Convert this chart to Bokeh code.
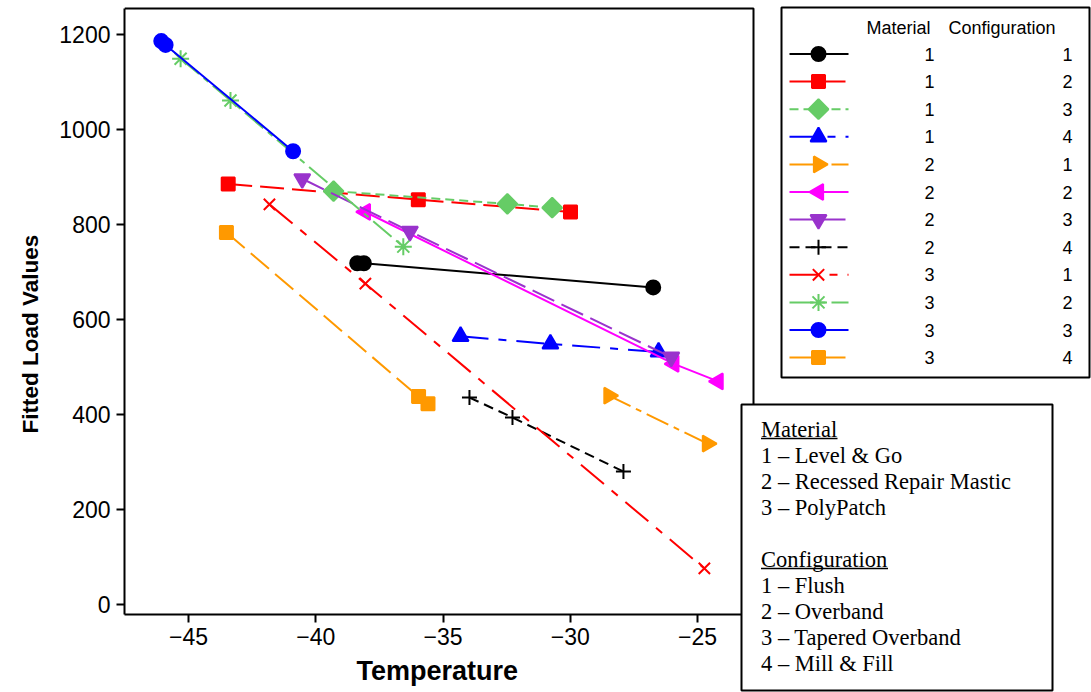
import math
from bokeh.plotting import figure
from bokeh.models import Range1d, FixedTicker, Title
from bokeh.embed import file_html
from bokeh.resources import INLINE
from bokeh.core.properties import value

# ---------------- data ----------------
material = [1, 1, 1, 1, 2, 2, 2, 2, 3, 3, 3, 3]
configuration = [1, 2, 3, 4, 1, 2, 3, 4, 1, 2, 3, 4]

temp_1_1 = [-38.37, -38.11, -26.74]
load_1_1 = [718, 718, 667]
temp_1_2 = [-43.44, -35.97, -29.99]
load_1_2 = [885, 852, 826]
temp_1_3 = [-39.30, -32.47, -30.71]
load_1_3 = [870, 843, 835]
temp_1_4 = [-34.31, -30.78, -26.53]
load_1_4 = [564, 548, 531]
temp_2_1 = [-28.48, -24.61]
load_2_1 = [439, 338]
temp_2_2 = [-38.05, -25.93, -24.19]
load_2_2 = [826, 506, 469]
temp_2_3 = [-40.53, -36.30, -26.03]
load_2_3 = [896, 785, 520]
temp_2_4 = [-33.96, -32.27, -27.91]
load_2_4 = [435, 393, 279]
temp_3_1 = [-41.82, -38.05, -24.73]
load_3_1 = [842, 675, 75]
temp_3_2 = [-45.31, -43.35, -36.56]
load_3_2 = [1149, 1061, 753]
temp_3_3 = [-46.07, -45.90, -40.89]
load_3_3 = [1186, 1178, 954]
temp_3_4 = [-43.51, -35.96, -35.59]
load_3_4 = [783, 437, 422]

x_ticks = [-45, -40, -35, -30, -25]
y_ticks = [0, 200, 400, 600, 800, 1000, 1200]

material_names = ["Level & Go", "Recessed Repair Mastic", "PolyPatch"]
configuration_names = ["Flush", "Overband", "Tapered Overband", "Mill & Fill"]

temps = [temp_1_1, temp_1_2, temp_1_3, temp_1_4, temp_2_1, temp_2_2,
         temp_2_3, temp_2_4, temp_3_1, temp_3_2, temp_3_3, temp_3_4]
loads = [load_1_1, load_1_2, load_1_3, load_1_4, load_2_1, load_2_2,
         load_2_3, load_2_4, load_3_1, load_3_2, load_3_3, load_3_4]

# ---------------- styles ----------------
GREEN = "#66CC66"
ORANGE = "#FF9900"
PURPLE = "#9933CC"
colors = ["black", "red", GREEN, "blue", ORANGE, "magenta",
          PURPLE, "black", "red", GREEN, "blue", ORANGE]
markers = ["circle", "square", "square", "triangle", "triangle", "triangle",
           "inverted_triangle", "cross", "x", "asterisk", "circle", "square"]
angles = [0, 0, math.pi / 4, 0, -math.pi / 2, math.pi / 2,
          0, 0, 0, 0, 0, 0]
msizes = [14, 13, 14, 16, 16, 16, 16, 15, 16, 17, 14, 13]
dashes = ["solid", "24 8", "9 5", "28 10 8 10", "24 6 6 6", "solid",
          "24 8", "10 6", "30 10 8 10", "24 6 6 6", "solid", "24 8"]

# ---------------- geometry ----------------
W, H = 1091, 692
FL, FT, FB = 124, 5, 614          # frame left / top / bottom (frame reaches canvas right)
PR, PT = 753, 8                   # plot box right / top
X_REF_PX, X_PPU = 188.0, 25.45    # pixel of -45 and pixels per degree
Y_REF_PX, Y_PPU = 603.5, 0.4746   # pixel of 0 and pixels per load unit

def xdata(px):
    return -45 + (px - X_REF_PX) / X_PPU

def ydata(py):
    return (Y_REF_PX - py) / Y_PPU

p = figure(width=W, height=H, output_backend="svg", toolbar_location=None,
           title=None,
           x_range=Range1d(xdata(FL), xdata(W)),
           y_range=Range1d(ydata(FB), ydata(FT)),
           min_border_left=FL, min_border_right=0,
           min_border_top=FT, min_border_bottom=H - FB)
p.extra_x_ranges = {"px": Range1d(FL, W)}
p.extra_y_ranges = {"py": Range1d(FB, FT)}
p.outline_line_color = None
p.grid.visible = False
p.background_fill_color = "white"
p.border_fill_color = "white"

TICK_FONT = "Liberation Sans"
for ax in (p.xaxis[0], p.yaxis[0]):
    ax.axis_line_width = 2
    ax.axis_line_color = "black"
    ax.major_tick_line_width = 2
    ax.major_tick_line_color = "black"
    ax.major_tick_out = 8
    ax.major_tick_in = 0
    ax.minor_tick_line_color = None
    ax.major_label_text_font = TICK_FONT
    ax.major_label_text_font_size = "23px"
    ax.major_label_text_color = "black"
p.xaxis.ticker = FixedTicker(ticks=x_ticks)
p.yaxis.ticker = FixedTicker(ticks=y_ticks)
p.xaxis.bounds = (xdata(FL), xdata(PR))
p.yaxis.bounds = (ydata(FB), ydata(PT))
p.xaxis.major_label_standoff = 5
p.yaxis.major_label_standoff = 6

# axis titles (placed as side titles so they can be positioned on the plot box)
p.add_layout(Title(text="Temperature", align="left", offset=232, standoff=13,
                   text_font="Liberation Sans", text_font_style="bold",
                   text_font_size="27px", text_color="black"), "below")
p.add_layout(Title(text="Fitted Load Values", align="left", offset=181, standoff=28,
                   text_font="Liberation Sans", text_font_style="bold",
                   text_font_size="22.5px", text_color="black"), "left")

# plot box top and right edges
p.line([FL, PR, PR], [PT, PT, FB], x_range_name="px", y_range_name="py",
       line_color="black", line_width=2)

# ---------------- series ----------------
for i in range(len(temps)):
    p.line(temps[i], loads[i], line_color=colors[i], line_width=2,
           line_dash=dashes[i])
    p.scatter(temps[i], loads[i], marker=markers[i], size=msizes[i],
              angle=angles[i], fill_color=colors[i], line_color=colors[i],
              line_width=2)

# ---------------- legend 1 (symbols) ----------------
OV = dict(x_range_name="px", y_range_name="py", level="overlay")
p.quad(left=[781], right=[1089], top=[7], bottom=[377], fill_color="white",
       line_color="black", line_width=2, **OV)
LF = value("Liberation Sans")
p.text(x=[866, 948], y=[27, 27], text=["Material", "Configuration"],
       text_align="left", text_baseline="middle", text_font=LF,
       text_font_size="18px", text_color="black", **OV)
row0, drow = 53.5, 27.6
rows = [row0 + drow * i for i in range(len(material))]
p.text(x=[934] * len(rows), y=rows, text=[str(m) for m in material],
       text_align="right", text_baseline="middle", text_font=LF,
       text_font_size="18px", text_color="black", **OV)
p.text(x=[1072] * len(rows), y=rows, text=[str(c) for c in configuration],
       text_align="right", text_baseline="middle", text_font=LF,
       text_font_size="18px", text_color="black", **OV)
for i, ry in enumerate(rows):
    p.line([789, 848], [ry, ry], line_color=colors[i], line_width=2,
           line_dash=dashes[i], **OV)
    p.scatter([818], [ry], marker=markers[i], size=msizes[i], angle=angles[i],
              fill_color=colors[i], line_color=colors[i], line_width=2, **OV)

# ---------------- legend 2 (key) ----------------
p.quad(left=[741], right=[1052], top=[404], bottom=[690], fill_color="white",
       line_color="black", line_width=2, **OV)
key_lines = (["Material"] + [f"{k + 1} \u2013 {n}" for k, n in enumerate(material_names)]
             + [""] + ["Configuration"]
             + [f"{k + 1} \u2013 {n}" for k, n in enumerate(configuration_names)])
key_y = [429 + 26 * i for i in range(len(key_lines))]
p.text(x=[760.5] * len(key_lines), y=key_y, text=key_lines, text_align="left",
       text_baseline="middle", text_font=value("Liberation Serif"),
       text_font_size="22.5px", text_color="black", **OV)
p.segment(x0=[760.5, 760.5], x1=[837, 887.5], y0=[key_y[0] + 9, key_y[5] + 9],
          y1=[key_y[0] + 9, key_y[5] + 9], line_color="black", line_width=1.5, **OV)

open("out.html", "w").write(file_html(p, INLINE))
